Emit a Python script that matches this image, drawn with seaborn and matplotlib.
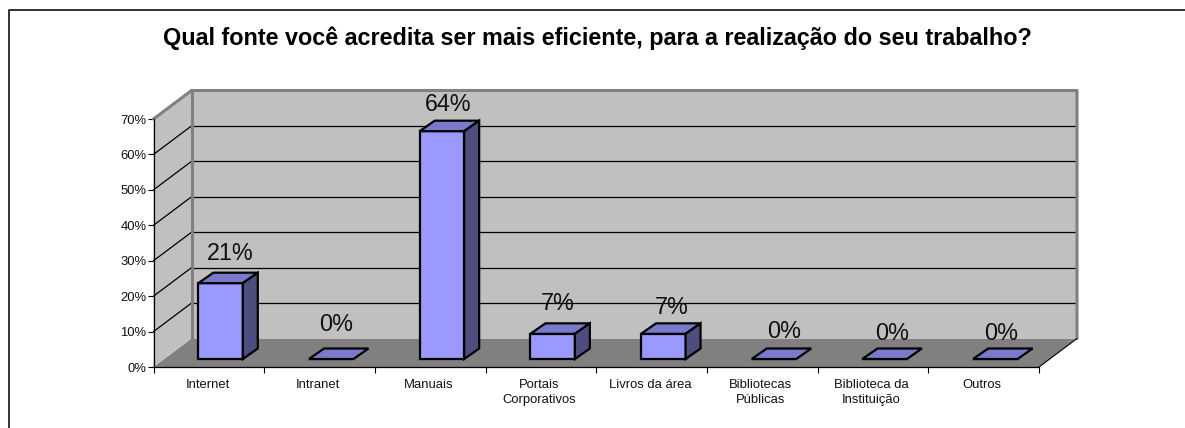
import matplotlib
matplotlib.use("Agg")
import matplotlib.pyplot as plt
from matplotlib.patches import Polygon, Rectangle
import seaborn as sns

categorias = ["Internet", "Intranet", "Manuais", "Portais\nCorporativos", "Livros da área",
              "Bibliotecas\nPúblicas", "Biblioteca da\nInstituição", "Outros"]
valores = [21.4, 0, 64.3, 7.1, 7.1, 0, 0, 0]
rotulos = ["21%", "0%", "64%", "7%", "7%", "0%", "0%", "0%"]
ticks_y = [0, 10, 20, 30, 40, 50, 60, 70]
titulo = "Qual fonte você acredita ser mais eficiente, para a realização do seu trabalho?"

W, H = 1185, 428
sns.set_theme(style="white")
plt.rcParams["font.family"] = ["Liberation Sans", "DejaVu Sans"]

fig = plt.figure(figsize=(W / 100, H / 100), dpi=100)
# front plane of the 3d box, in pixels
ax = fig.add_axes([153.5 / W, 1 - 367 / H, 885.5 / W, 248 / H])
ax.set_facecolor("none")

px_x = 885.5 / 8
px_y = 248 / 70
dx = 38 / px_x
dy = 28.5 / px_y
barra_dx = 15 / px_x
barra_dy = 10.5 / px_y
desl_x = 11.7 / px_x
desl_y = 8 / px_y

sns.barplot(x=categorias, y=valores, color="#9999ff", saturation=1, width=0.402,
            edgecolor="black", linewidth=1.6, ax=ax, zorder=5)
ax.set_xlim(-0.5, 7.5)
ax.set_ylim(0, 70)

# walls and floor
x0, x1 = -0.5, 7.5
ax.add_patch(Polygon([(x0, 0), (x0 + dx, dy), (x1 + dx, dy), (x1, 0)], fc="#808080", ec="none", clip_on=False, zorder=1))
ax.add_patch(Polygon([(x0, 0), (x0 + dx, dy), (x0 + dx, 70 + dy), (x0, 70)], fc="#c0c0c0", ec="none", clip_on=False, zorder=1))
ax.add_patch(Rectangle((x0 + dx, dy), x1 - x0, 70, fc="#c0c0c0", ec="none", clip_on=False, zorder=1))
for t in ticks_y[1:-1]:
    ax.plot([x0, x0 + dx], [t, t + dy], color="black", lw=0.9, clip_on=False, zorder=2)
    ax.plot([x0 + dx, x1 + dx], [t + dy, t + dy], color="black", lw=0.9, clip_on=False, zorder=2)
cinza = dict(color="#808080", lw=2.2, clip_on=False, zorder=3, solid_capstyle="round")
ax.plot([x0, x0 + dx, x1 + dx, x1 + dx], [70, 70 + dy, 70 + dy, dy], **cinza)
ax.plot([x0 + dx, x0 + dx], [dy, 70 + dy], **cinza)
ax.plot([x1, x1 + dx], [0, dy], color="black", lw=0.8, clip_on=False, zorder=3)

# label offsets in points, excel does not place them evenly
ajustes = [(6.7, 21.3), (3.3, 24.5), (4.5, 19.1), (4, 21.5), (6, 19.1), (7, 20), (5.4, 18.5), (4, 18)]

# 3d faces of each bar, taken from the bars seaborn drew
for barra, v, rot, aj in zip(ax.patches[:len(valores)], valores, rotulos, ajustes):
    barra.set_x(barra.get_x() + desl_x)
    barra.set_y(desl_y)
    e = barra.get_x()
    d = e + barra.get_width()
    b = barra.get_y()
    t = b + barra.get_height()
    ax.add_patch(Polygon([(e, t), (d, t), (d + barra_dx, t + barra_dy), (e + barra_dx, t + barra_dy)],
                         fc="#7a7acc", ec="black", lw=1.6, joinstyle="miter", clip_on=False, zorder=6))
    if v > 0:
        ax.add_patch(Polygon([(d, b), (d + barra_dx, b + barra_dy), (d + barra_dx, t + barra_dy), (d, t)],
                             fc="#4d4d80", ec="black", lw=1.6, joinstyle="miter", clip_on=False, zorder=6))
    ax.annotate(rot, ((e + d) / 2, t), xytext=aj, textcoords="offset points", ha="center", va="center",
                fontsize=16.8, color="#111111", zorder=7, annotation_clip=False)

ax.set_yticks(ticks_y)
ax.set_yticklabels([f"{t}%" for t in ticks_y], fontsize=9.4, color="#111111")
ax.set_xticks([x - 0.5 for x in range(9)], minor=False)
ax.set_xticklabels([""] * 9)
for i, c in enumerate(categorias):
    ax.annotate(c, (i, 0), xytext=(-1, -8.5), textcoords="offset points",
                ha="center", va="top", fontsize=9.4, color="#111111", linespacing=1.35, annotation_clip=False)
ax.tick_params(axis="both", length=4, width=0.8, color="black", pad=1, left=True, bottom=True)
ax.spines["top"].set_visible(False)
ax.spines["right"].set_visible(False)
for lado in ["left", "bottom"]:
    ax.spines[lado].set_color("black")
    ax.spines[lado].set_linewidth(0.9)
    ax.spines[lado].set_zorder(4)

fig.text(597.5 / W, 1 - 38 / H, titulo, ha="center", va="center", fontsize=16.8, fontweight="bold", color="black")

# outer frame of the chart: only top and left reach the image
fig.add_artist(plt.Line2D([8.5 / W, 8.5 / W, 1], [0, 1 - 10 / H, 1 - 10 / H], color="#222222", lw=1.3))

fig.savefig("out.png", dpi=100, facecolor="white")
